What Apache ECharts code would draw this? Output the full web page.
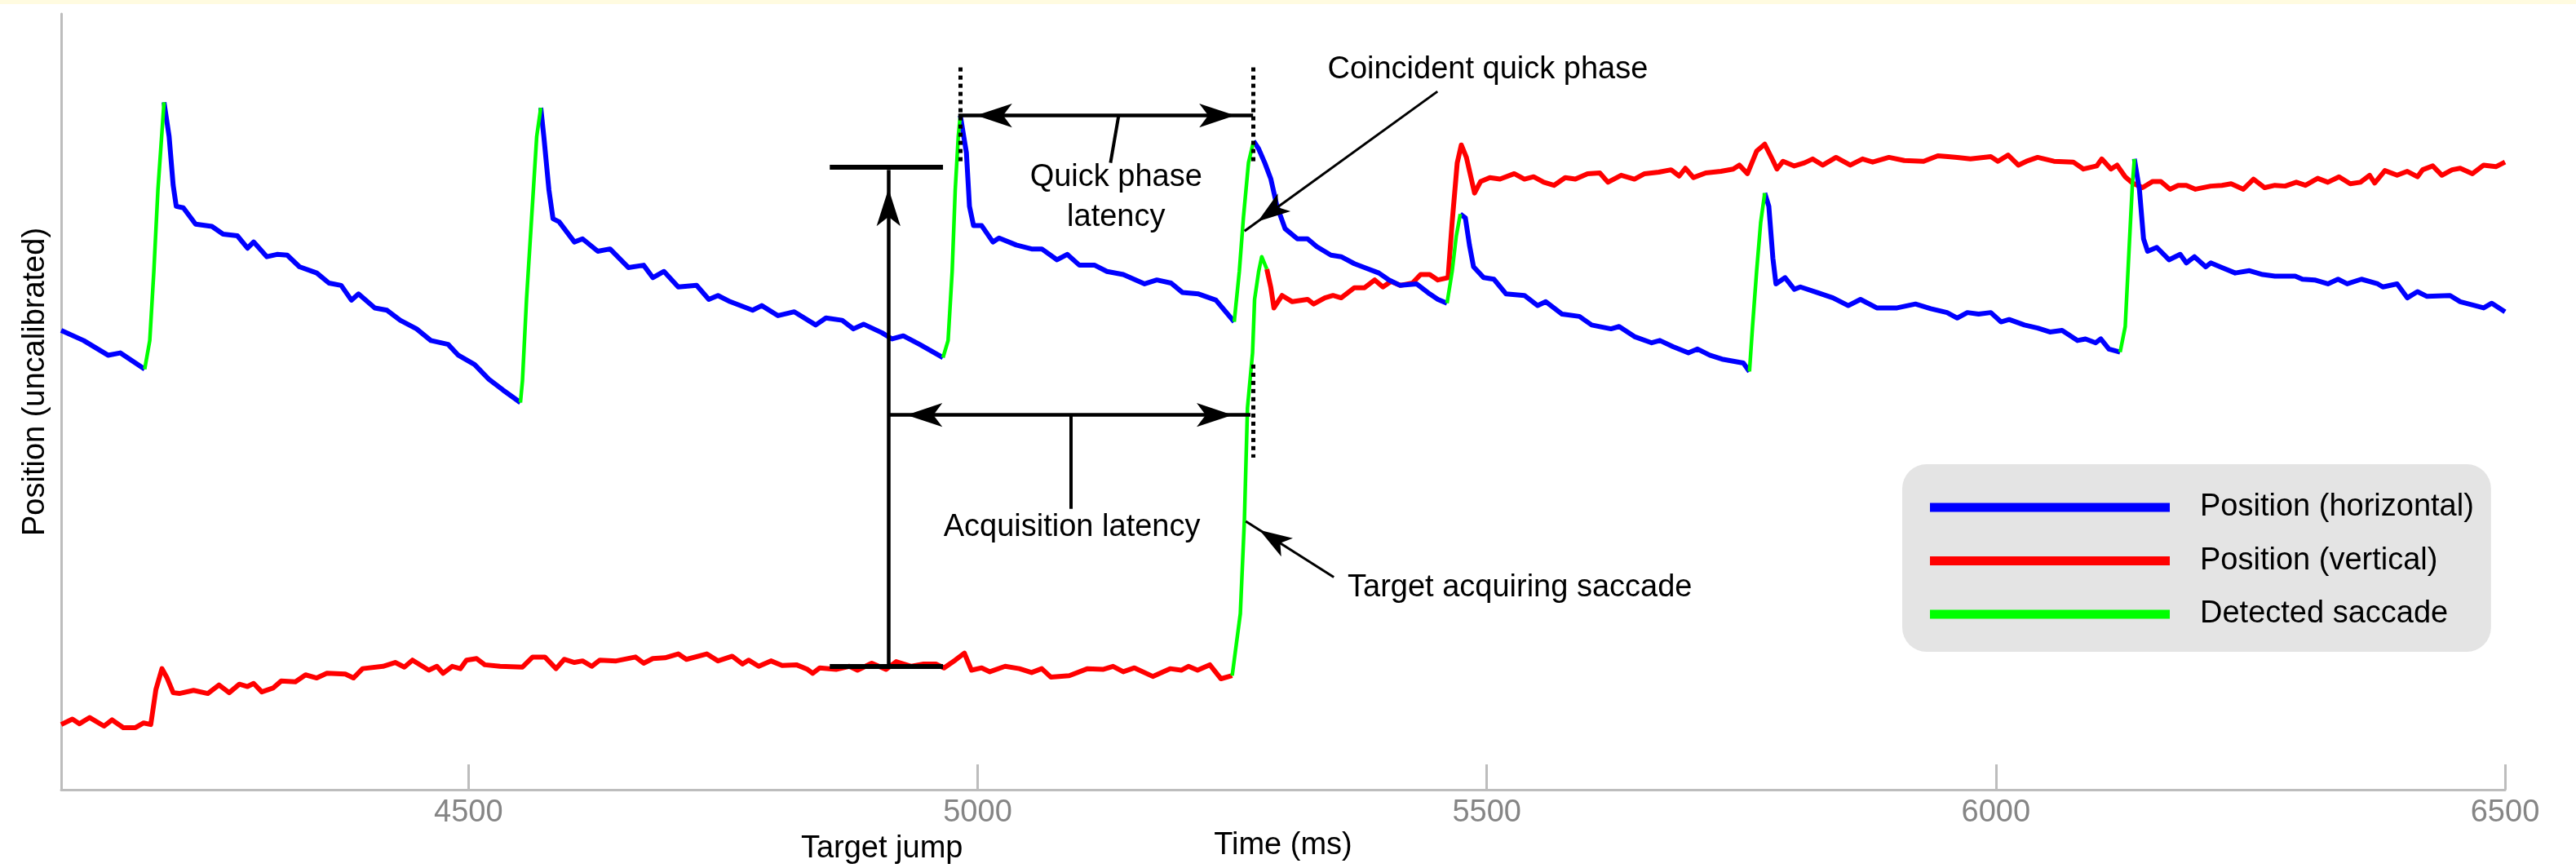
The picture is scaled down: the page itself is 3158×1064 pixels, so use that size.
<!DOCTYPE html>
<html>
<head>
<meta charset="utf-8">
<script src="https://cdn.jsdelivr.net/npm/echarts@6/dist/echarts.min.js"></script>
<style>
html, body { margin: 0; padding: 0; background: #fff; }
#chart_1 { width: 3158px; height: 1064px; }
</style>
</head>
<body>
<div id="chart_1"></div>
<script>
var dom = document.getElementById("chart_1");
var myChart = echarts.init(dom);
var font = "'Liberation Sans', Arial, Helvetica, sans-serif";

// time (ms), position (uncalibrated, 0-100 of the plot height)
var horizontalPos = [
    [4100,59.2],[4122,57.9],[4146,56.0],[4158,56.3],[4182,54.2],[4187,57.9],[4191,66.8],[4195,77.3],[4201,88.6],[4206,84.2],
    [4210,77.9],[4213,75.2],[4220,75.0],[4232,72.9],[4248,72.6],[4259,71.6],[4273,71.4],[4283,69.8],[4289,70.6],[4302,68.7],
    [4312,69.0],[4322,68.9],[4334,67.4],[4351,66.6],[4363,65.3],[4375,65.0],[4385,63.1],[4392,63.9],[4408,62.1],[4420,61.8],
    [4433,60.5],[4449,59.4],[4463,57.9],[4480,57.4],[4490,56.0],[4506,54.8],[4520,52.9],[4534,51.5],[4551,49.9],[4553,52.7],
    [4557,63.2],[4562,73.7],[4567,84.2],[4571,87.9],[4574,84.2],[4579,77.3],[4583,73.6],[4589,73.2],[4604,70.6],[4612,71.0],
    [4627,69.4],[4639,69.7],[4657,67.3],[4672,67.6],[4681,66.0],[4692,66.8],[4706,64.8],[4724,65.0],[4736,63.2],[4745,63.7],
    [4757,62.9],[4779,61.8],[4788,62.4],[4804,61.1],[4820,61.6],[4841,59.9],[4851,60.8],[4867,60.5],[4878,59.4],[4888,60.0],
    [4906,58.9],[4916,58.1],[4927,58.5],[4943,57.4],[4966,55.7],[4971,57.9],[4975,66.8],[4978,77.3],[4981,84.2],[4983,86.9],
    [4989,82.1],[4992,75.2],[4996,72.7],[5004,72.7],[5015,70.6],[5021,71.1],[5038,70.2],[5053,69.7],[5063,69.7],[5078,68.3],
    [5088,69.0],[5100,67.6],[5115,67.6],[5127,66.8],[5143,66.4],[5164,65.2],[5176,65.7],[5190,65.3],[5201,64.1],[5217,63.9],
    [5234,63.1],[5252,60.3],[5257,66.8],[5261,73.7],[5266,80.8],[5271,83.6],[5276,82.6],[5282,80.8],[5288,78.7],[5294,75.2],
    [5302,72.3],[5314,71.0],[5324,71.0],[5333,70.0],[5347,68.9],[5357,68.7],[5370,67.8],[5380,67.3],[5394,66.6],[5404,65.7],
    [5415,65.0],[5431,65.2],[5444,63.9],[5452,63.2],[5461,62.7],[5466,66.8],[5470,71.3],[5474,74.2],[5479,73.7],[5483,70.2],
    [5487,67.4],[5497,66.0],[5507,65.8],[5519,63.9],[5537,63.7],[5550,62.4],[5558,62.9],[5574,61.3],[5591,61.0],[5603,59.9],
    [5622,59.4],[5630,59.7],[5645,58.4],[5662,57.6],[5670,57.9],[5683,57.1],[5698,56.3],[5707,56.8],[5719,56.0],[5731,55.5],
    [5752,55.0],[5758,53.9],[5761,59.7],[5765,66.8],[5769,73.1],[5773,76.9],[5777,75.2],[5781,68.5],[5784,65.2],[5793,66.0],
    [5802,64.5],[5808,64.8],[5824,64.1],[5840,63.4],[5855,62.4],[5867,63.2],[5883,62.1],[5903,62.1],[5921,62.6],[5936,62.0],
    [5952,61.5],[5962,60.8],[5972,61.5],[5983,61.3],[5995,61.5],[6005,60.3],[6013,60.6],[6028,59.9],[6041,59.5],[6053,59.0],
    [6065,59.2],[6080,57.9],[6088,58.1],[6098,57.6],[6103,58.1],[6111,56.8],[6122,56.4],[6127,59.7],[6131,70.2],[6134,77.9],
    [6136,81.3],[6141,77.3],[6145,71.0],[6149,69.4],[6158,69.9],[6170,68.3],[6181,69.0],[6187,67.9],[6195,68.7],[6206,67.4],
    [6211,67.9],[6222,67.3],[6235,66.6],[6249,66.9],[6262,66.4],[6274,66.2],[6294,66.2],[6301,65.8],[6313,65.7],[6326,65.2],
    [6336,65.8],[6345,65.2],[6359,65.8],[6375,65.2],[6380,64.8],[6394,65.2],[6404,63.4],[6414,64.2],[6423,63.6],[6446,63.7],
    [6456,62.9],[6479,62.1],[6487,62.7],[6500,61.6]
];

var verticalPos = [
    [4100,8.4],[4111,9.1],[4118,8.5],[4128,9.3],[4142,8.2],[4150,9.0],[4161,8.0],[4173,8.0],[4181,8.6],[4188,8.4],
    [4193,12.9],[4199,15.6],[4204,14.4],[4210,12.5],[4216,12.4],[4230,12.8],[4244,12.4],[4255,13.5],[4265,12.5],[4275,13.6],
    [4283,13.3],[4289,13.7],[4297,12.6],[4308,13.1],[4316,14.0],[4330,13.9],[4340,14.8],[4351,14.4],[4361,15.0],[4379,14.9],
    [4387,14.4],[4396,15.6],[4416,15.9],[4428,16.4],[4437,15.8],[4445,16.7],[4461,15.4],[4469,15.9],[4475,15.0],[4484,15.9],
    [4492,15.6],[4498,16.7],[4508,16.9],[4516,16.1],[4531,15.9],[4553,15.8],[4563,17.1],[4575,17.1],[4586,15.6],[4594,16.8],
    [4604,16.4],[4612,16.6],[4621,15.9],[4629,16.7],[4645,16.6],[4664,17.1],[4672,16.3],[4681,16.9],[4693,17.0],[4706,17.5],
    [4714,16.8],[4734,17.5],[4745,16.6],[4759,17.2],[4769,16.2],[4775,16.7],[4785,15.9],[4797,16.6],[4808,16.0],[4822,16.1],
    [4833,15.5],[4838,15.0],[4845,15.7],[4861,15.5],[4874,15.9],[4882,15.4],[4896,16.3],[4910,15.5],[4920,16.5],[4935,15.9],
    [4947,16.2],[4959,16.2],[4967,15.7],[4978,16.7],[4987,17.6],[4994,15.4],[5004,15.7],[5012,15.2],[5027,15.9],[5041,15.6],
    [5053,15.1],[5063,15.6],[5072,14.5],[5090,14.7],[5108,15.6],[5123,15.5],[5133,15.9],[5143,15.2],[5154,15.7],[5172,14.6],
    [5189,15.6],[5200,15.4],[5207,15.9],[5216,15.4],[5228,16.1],[5239,14.3],[5250,14.7],[5258,22.7],[5262,34.8],[5265,49.2],
    [5270,56.3],[5272,63.2],[5276,66.8],[5279,68.7],[5284,67.1],[5288,64.7],[5291,62.1],[5299,63.7],[5309,62.9],[5324,63.2],
    [5330,62.6],[5341,63.4],[5349,63.7],[5357,63.4],[5370,64.7],[5380,64.7],[5390,65.7],[5398,64.8],[5406,65.5],[5415,65.0],
    [5427,65.3],[5435,66.4],[5444,66.4],[5452,65.7],[5462,66.0],[5466,73.1],[5471,80.8],[5475,83.1],[5480,81.5],[5488,76.9],
    [5494,78.4],[5503,78.9],[5513,78.7],[5527,79.4],[5537,78.7],[5546,79.0],[5556,78.3],[5566,77.9],[5577,78.9],[5587,78.7],
    [5599,79.4],[5611,79.5],[5619,78.3],[5632,79.2],[5645,78.7],[5655,79.4],[5669,79.6],[5681,79.9],[5689,79.1],[5695,80.1],
    [5703,78.9],[5715,79.5],[5730,79.7],[5742,80.0],[5748,80.5],[5756,79.4],[5765,82.3],[5773,83.2],[5781,81.1],[5785,80.0],
    [5791,81.0],[5802,80.4],[5812,80.8],[5820,81.3],[5830,80.5],[5843,81.5],[5857,80.5],[5869,81.3],[5879,80.9],[5895,81.5],
    [5910,81.1],[5929,81.0],[5943,81.7],[5953,81.6],[5962,81.5],[5975,81.3],[5995,81.6],[6002,81.0],[6012,81.8],[6022,80.5],
    [6030,81.0],[6041,81.5],[6057,81.0],[6076,80.9],[6086,80.0],[6099,80.4],[6104,81.3],[6113,80.0],[6119,80.5],[6127,79.0],
    [6134,78.2],[6144,77.6],[6154,78.4],[6162,78.4],[6171,77.4],[6179,77.9],[6187,77.9],[6196,77.4],[6211,77.8],[6222,77.9],
    [6231,78.1],[6243,77.4],[6253,78.7],[6264,77.6],[6274,77.9],[6284,77.8],[6295,78.3],[6304,77.9],[6316,78.8],[6326,78.3],
    [6337,79.0],[6348,78.1],[6358,78.3],[6367,79.2],[6372,78.2],[6382,79.8],[6394,79.2],[6404,79.7],[6414,79.0],[6419,79.9],
    [6429,80.4],[6438,79.2],[6448,79.9],[6456,80.1],[6468,79.4],[6479,80.5],[6491,80.3],[6500,80.9]
];

// detected saccades: which trace, start, end (ms)
var saccadeWindows = [
    ['h', 4182, 4201], ['h', 4551, 4571], ['h', 4966, 4983], ['h', 5252, 5271],
    ['v', 5250, 5284], ['h', 5461, 5474], ['h', 5758, 5773], ['h', 6122, 6136]
];

var xTicks = [4500, 5000, 5500, 6000, 6500];

// annotation geometry, in data coordinates (ms, position)
var arrowsBoth = [
    [[4981, 86.9], [5270.5, 86.9]],   // quick phase latency
    [[4912.5, 48.3], [5268, 48.3]]    // acquisition latency
];
var arrowsEnd = [
    [[4912.5, 15.9], [4912.5, 79.9]]  // target jump
];
var thinArrows = [
    [[5451.6, 90.0], [5262.1, 72.0]], // coincident quick phase
    [[5349.8, 27.4], [5263.3, 34.6]]  // target acquiring saccade
];
var leaders = [
    [[5138.5, 86.9], [5130.5, 80.8]],
    [[5091.8, 48.3], [5091.8, 36.2]]
];
var bars = [
    [[4854.8, 80.3], [4966, 80.3]],
    [[4854.8, 15.9], [4966, 15.9]]
];
var dotted = [
    [[4983, 93.1], [4983, 80.8]],
    [[5270.5, 93.1], [5270.5, 80.8]],
    [[5270.5, 54.8], [5270.5, 42.8]],
    [[4912.5, 15.9], [4912.5, -2.6]]
];
var notes = [
    ['Coincident quick phase', 5501, 92.8],
    ['Quick phase\nlatency', 5136, 76.3],
    ['Acquisition latency', 5092.6, 33.8],
    ['Target acquiring saccade', 5532.5, 26.0],
    ['Target jump', 4906, -7.6]
];

function inSaccade(key, t) {
    return saccadeWindows.some(function (w) { return w[0] === key && t > w[1] && t < w[2]; });
}
// the trace itself is left out where the saccade overlay is drawn
function traceWithGaps(trace, key) {
    var out = [];
    trace.forEach(function (p) {
        if (inSaccade(key, p[0])) {
            if (out.length && out[out.length - 1][1] !== '-') out.push([p[0], '-']);
        } else {
            out.push(p);
        }
    });
    return out;
}
var traces = { h: horizontalPos, v: verticalPos };
var saccadeData = [];
saccadeWindows.forEach(function (w) {
    traces[w[0]].forEach(function (p) {
        if (p[0] >= w[1] && p[0] <= w[2]) saccadeData.push(p);
    });
    saccadeData.push([w[2] + 0.5, '-']);
});

function seg(pair, s0, s1, style, size) {
    return [
        { coord: pair[0], symbol: s0, symbolSize: size, symbolOffset: [0, size ? size[1] / 2 : 0], lineStyle: style },
        { coord: pair[1], symbol: s1, symbolSize: size, symbolOffset: [0, size ? size[1] / 2 : 0] }
    ];
}
var annoLines = [];
arrowsBoth.forEach(function (p) { annoLines.push(seg(p, 'arrow', 'arrow', { width: 4.5, type: 'solid' }, [22, 44])); });
arrowsEnd.forEach(function (p) { annoLines.push(seg(p, 'none', 'arrow', { width: 4.5, type: 'solid' }, [22, 46])); });
thinArrows.forEach(function (p) { annoLines.push(seg(p, 'none', 'arrow', { width: 3, type: 'solid' }, [20, 40])); });
leaders.forEach(function (p) { annoLines.push(seg(p, 'none', 'none', { width: 4, type: 'solid' })); });
bars.forEach(function (p) { annoLines.push(seg(p, 'none', 'none', { width: 6, type: 'solid' })); });
dotted.forEach(function (p) { annoLines.push(seg(p, 'none', 'none', { width: 5, type: [5, 5], cap: 'butt' })); });

option = {
    backgroundColor: '#ffffff',
    animation: false,
    grid: { left: 75, right: 87, top: 17, bottom: 96 },
    legend: {
        orient: 'vertical',
        left: 2332,
        top: 569,
        backgroundColor: '#e4e4e4',
        borderRadius: 30,
        padding: [34, 21, 27, 34],
        itemWidth: 294,
        itemHeight: 11,
        itemGap: 27.5,
        icon: 'rect',
        selectedMode: false,
        textStyle: { fontSize: 38, lineHeight: 38, color: '#000', fontFamily: font, padding: [0, 0, 0, 32] },
        data: ['Position (horizontal)', 'Position (vertical)', 'Detected saccade']
    },
    xAxis: {
        type: 'value',
        min: 4100,
        max: 6500,
        name: 'Time (ms)',
        nameLocation: 'middle',
        nameGap: 50,
        nameMoveOverlap: false,
        nameTextStyle: { fontSize: 38, color: '#000', fontFamily: font },
        axisLine: { show: true, onZero: false, lineStyle: { color: '#bdbdbd', width: 3 } },
        axisTick: { show: true, inside: true, length: 31, customValues: xTicks, lineStyle: { color: '#bdbdbd', width: 3 } },
        axisLabel: {
            customValues: xTicks,
            fontSize: 38,
            color: '#858585',
            fontFamily: font,
            margin: 10,
            formatter: function (v) { return String(v); }
        },
        splitLine: { show: false }
    },
    yAxis: {
        type: 'value',
        min: 0,
        max: 100,
        name: 'Position (uncalibrated)',
        nameLocation: 'middle',
        nameRotate: 90,
        nameGap: 12,
        nameMoveOverlap: false,
        nameTextStyle: { fontSize: 38, color: '#000', fontFamily: font, padding: [0, 0, 0, 49] },
        axisLine: { show: true, onZero: false, lineStyle: { color: '#bdbdbd', width: 3 } },
        axisTick: { show: false },
        axisLabel: { show: false },
        splitLine: { show: false }
    },
    series: [
        {
            name: 'Position (vertical)',
            type: 'line',
            data: traceWithGaps(verticalPos, 'v'),
            showSymbol: false,
            connectNulls: false,
            color: '#ff0000',
            lineStyle: { color: '#ff0000', width: 6, join: 'round' },
            z: 2
        },
        {
            name: 'Position (horizontal)',
            type: 'line',
            data: traceWithGaps(horizontalPos, 'h'),
            showSymbol: false,
            connectNulls: false,
            color: '#0000ff',
            lineStyle: { color: '#0000ff', width: 6, join: 'round' },
            z: 3
        },
        {
            name: 'Detected saccade',
            type: 'line',
            data: saccadeData,
            showSymbol: false,
            connectNulls: false,
            color: '#00ff00',
            lineStyle: { color: '#00ff00', width: 4.5, join: 'round' },
            z: 4
        },
        {
            name: 'annotations',
            type: 'line',
            data: [],
            clip: false,
            z: 5,
            markLine: {
                silent: true,
                animation: false,
                symbol: ['none', 'none'],
                label: { show: false },
                lineStyle: { color: '#000', width: 4, type: 'solid' },
                data: annoLines
            }
        }
    ],
    graphic: [
        { type: 'rect', left: 0, top: 0, shape: { width: 3158, height: 5 }, style: { fill: '#fffbe0' } }
    ]
};

if (option && typeof option === "object") {
    myChart.setOption(option, true);
}

// text notes placed through the chart's own scales
var noteGraphics = notes.map(function (n) {
    var p = myChart.convertToPixel({ gridIndex: 0 }, [n[1], n[2]]);
    return {
        type: 'text',
        x: p[0],
        y: p[1],
        z: 100,
        style: {
            text: n[0],
            fontSize: 38,
            lineHeight: 49,
            fontFamily: font,
            fill: '#000',
            align: 'center',
            verticalAlign: 'middle'
        }
    };
});
myChart.setOption({ graphic: option.graphic.concat(noteGraphics) });
</script>
</body>
</html>
